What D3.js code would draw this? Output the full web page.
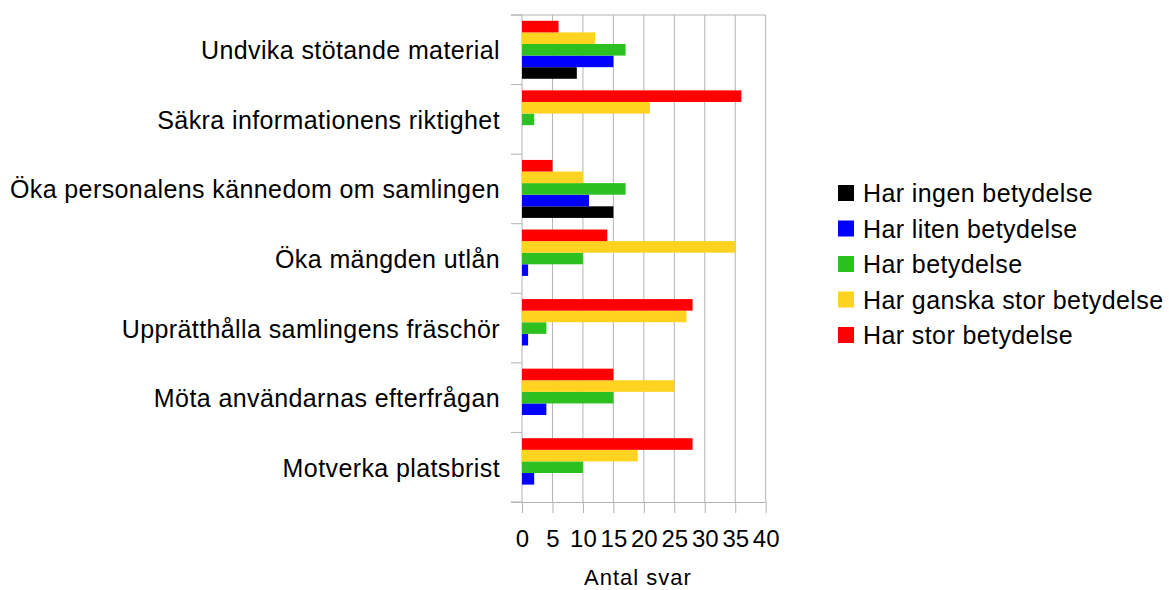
<!DOCTYPE html>
<html lang="sv">
<head>
<meta charset="UTF-8">
<title>Antal svar</title>
<script src="https://cdnjs.cloudflare.com/ajax/libs/d3/7.8.5/d3.min.js"></script>
<style>
  body { margin: 0; background: #fff; }
  text { font-family: "Liberation Sans", Arial, sans-serif; fill: #000; }
</style>
</head>
<body>
<svg id="chart" width="1169" height="590"></svg>
<script>
var categories = [
  "Undvika stötande material",
  "Säkra informationens riktighet",
  "Öka personalens kännedom om samlingen",
  "Öka mängden utlån",
  "Upprätthålla samlingens fräschör",
  "Möta användarnas efterfrågan",
  "Motverka platsbrist"
];
var seriesNames = [
  "Har ingen betydelse",
  "Har liten betydelse",
  "Har betydelse",
  "Har ganska stor betydelse",
  "Har stor betydelse"
];
var seriesColors = ["#000000", "#0000ff", "#2cc121", "#ffd320", "#ff0000"];
var ingen   = [9, 0, 15, 0, 0, 0, 0];
var liten   = [15, 0, 11, 1, 1, 4, 2];
var betyd   = [17, 2, 17, 10, 4, 15, 10];
var ganska  = [12, 21, 10, 35, 27, 25, 19];
var stor    = [6, 36, 5, 14, 28, 15, 28];
var xTicks = [0, 5, 10, 15, 20, 25, 30, 35, 40];

(function () {
  var values = [ingen, liten, betyd, ganska, stor];
  var svg = d3.select("#chart");
  var left = 522, right = 765.7, top = 15, bottom = 502;

  var x = d3.scaleLinear().domain([0, 40]).range([left, right]);
  var y = d3.scaleBand().domain(categories).range([top, bottom]);
  // red on top, black at the bottom of each group
  var sub = d3.scaleBand()
      .domain(d3.range(seriesNames.length).reverse())
      .range([0, y.bandwidth()])
      .paddingOuter(0.5).paddingInner(0);

  // grid lines
  svg.append("g").selectAll("line")
      .data(xTicks.slice(1))
      .join("line")
      .attr("x1", function (d) { return x(d); })
      .attr("x2", function (d) { return x(d); })
      .attr("y1", top).attr("y2", bottom)
      .attr("stroke", "#b3b3b3").attr("stroke-width", 1);

  // category boundary ticks on the left
  var bounds = categories.map(function (c) { return y(c); }).concat([bottom]);
  svg.append("g").selectAll("line")
      .data(bounds)
      .join("line")
      .attr("x1", left - 11).attr("x2", left)
      .attr("y1", function (d) { return d; })
      .attr("y2", function (d) { return d; })
      .attr("stroke", "#b3b3b3");
  svg.append("line")
      .attr("x1", left - 11).attr("x2", right)
      .attr("y1", top).attr("y2", top)
      .attr("stroke", "#b3b3b3");
  svg.append("line")
      .attr("x1", left).attr("x2", left)
      .attr("y1", top).attr("y2", bottom)
      .attr("stroke", "#b3b3b3");

  // bars
  var groups = svg.append("g").selectAll("g")
      .data(categories)
      .join("g")
      .attr("transform", function (c) { return "translate(0," + y(c) + ")"; });
  groups.selectAll("rect")
      .data(function (c, i) {
        return values.map(function (v, s) { return {s: s, v: v[i]}; })
          .filter(function (d) { return d.v > 0; });
      })
      .join("rect")
      .attr("x", x(0))
      .attr("y", function (d) { return sub(d.s); })
      .attr("width", function (d) { return x(d.v) - x(0); })
      .attr("height", sub.bandwidth())
      .attr("fill", function (d) { return seriesColors[d.s]; });

  // category labels
  svg.append("g").selectAll("text")
      .data(categories)
      .join("text")
      .attr("x", 500)
      .attr("y", function (c) { return y(c) + y.bandwidth() / 2; })
      .attr("dy", "0.38em")
      .attr("text-anchor", "end")
      .attr("font-size", 25)
      .attr("letter-spacing", 0.4)
      .text(function (c) { return c; });

  // x axis
  var xAxis = svg.append("g")
      .attr("transform", "translate(0," + bottom + ")")
      .call(d3.axisBottom(x).tickValues(xTicks).tickSize(11).tickPadding(17).tickSizeOuter(0));
  xAxis.select(".domain").attr("stroke", "#b3b3b3")
      .attr("d", "M" + (left - 11) + ",0.5H" + right);
  xAxis.selectAll(".tick line").attr("stroke", "#b3b3b3");
  xAxis.selectAll(".tick text")
      .attr("font-size", 24)
      .attr("font-family", "Liberation Sans, Arial, sans-serif")
      .attr("fill", "#000");

  svg.append("text")
      .attr("x", 638).attr("y", 577)
      .attr("dy", "0.35em")
      .attr("text-anchor", "middle")
      .attr("font-size", 22)
      .attr("letter-spacing", 1)
      .text("Antal svar");

  // legend
  var legend = svg.append("g").selectAll("g")
      .data(seriesNames)
      .join("g")
      .attr("transform", function (d, i) { return "translate(838," + (193 + i * 35.5) + ")"; });
  legend.append("rect")
      .attr("x", 0).attr("y", -8)
      .attr("width", 16).attr("height", 16)
      .attr("fill", function (d, i) { return seriesColors[i]; });
  legend.append("text")
      .attr("x", 25).attr("y", 0)
      .attr("dy", "0.36em")
      .attr("font-size", 25)
      .attr("letter-spacing", 0.4)
      .text(function (d) { return d; });
})();
</script>
</body>
</html>
